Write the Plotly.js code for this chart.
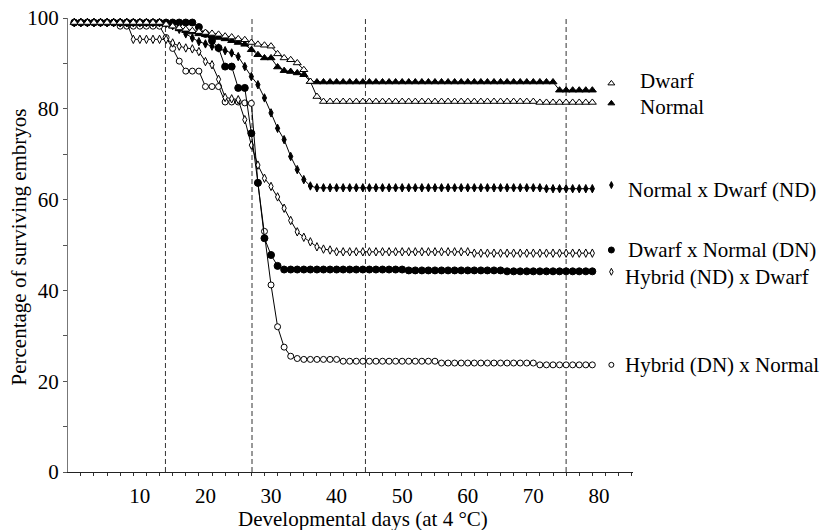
<!DOCTYPE html>
<html>
<head>
<meta charset="utf-8">
<script src="https://cdn.plot.ly/plotly-3.0.1.min.js"></script>
<style>html,body{margin:0;padding:0;background:#fff;}#chart{width:828px;height:530px;}</style>
</head>
<body>
<div id="chart"></div>
<script>
// ---- data ----
const days = [0,1,2,3,4,5,6,7,8,9,10,11,12,13,14,15,16,17,18,19,20,21,22,23,24,25,26,27,28,29,30,31,32,33,34,35,36,37,38,39,40,41,42,43,44,45,46,47,48,49,50,51,52,53,54,55,56,57,58,59,60,61,62,63,64,65,66,67,68,69,70,71,72,73,74,75,76,77,78,79];

const dwarf = [99,99,99,99,99,99,99,99,99,99,99,99,99,99,
  98.6,98.2,97.8,97.5,97.2,97.0,96.8,96.6,96.4,96.0,95.8,95.4,95.2,94.6,94.2,94.0,93.8,92.1,91.2,90.8,90.1,88.6,86.0,82.7,
  81.6,81.6,81.6,81.6,81.6,81.6,81.6,81.6,81.6,81.6,81.6,81.6,81.6,81.6,81.6,81.6,81.6,81.6,81.6,81.6,81.6,81.6,81.6,81.6,81.6,81.6,81.6,81.6,81.6,81.6,81.6,81.6,81.6,
  81.4,81.4,81.4,81.4,81.4,81.4,81.4,81.4,81.4];

const normal = [99,99,99,99,99,99,99,99,99,99,99,99,99,99,
  98.6,98.2,97.6,97.2,96.9,96.5,96.3,96.0,95.7,95.4,95.0,94.6,94.2,93.0,91.9,91.2,91.2,89.2,88.4,88.2,87.9,87.5,86.0,
  85.9,85.9,85.9,85.9,85.9,85.9,85.9,85.9,85.9,85.9,85.9,85.9,85.9,85.9,85.9,85.9,85.9,85.9,85.9,85.9,85.9,85.9,85.9,85.9,85.9,85.9,85.9,85.9,85.9,85.9,85.9,85.9,85.9,85.9,85.9,85.9,85.9,
  84.1,84.1,84.1,84.1,84.1,84.1];

const normalXDwarf = [99,99,99,99,99,99,99,99,99,99,99,99,99,99,
  98.8,98.3,97.5,96.5,95.6,94.8,94.3,93.8,93.4,92.8,92.3,91.5,89.3,87.1,85.3,82.4,79.1,75.7,73.2,69.5,66.6,64.4,63.0,
  62.6,62.6,62.6,62.6,62.6,62.6,62.6,62.6,62.6,62.6,62.6,62.6,62.6,62.6,62.6,62.6,62.6,62.6,62.6,62.6,62.6,62.6,62.6,62.6,62.6,62.6,62.6,62.6,62.6,62.6,62.6,62.6,62.6,62.6,62.6,
  62.4,62.4,62.4,62.4,62.4,62.4,62.4,62.4];

const dwarfXNormal = [99,99,99,99,99,99,99,99,99,99,99,99,99,99,99,99,99,99,99,
  98.0,96.5,95.0,93.4,89.3,89.3,84.6,84.6,74.6,63.7,51.5,47.8,45.4,
  44.6,44.6,44.6,44.6,44.6,44.6,44.6,44.6,44.6,44.6,44.6,44.6,44.6,44.6,44.6,44.6,44.6,44.6,44.6,
  44.4,44.4,44.4,44.4,44.4,44.4,44.4,44.4,44.4,44.4,44.4,44.4,44.4,44.4,44.4,
  44.2,44.2,44.2,44.2,44.2,44.2,44.2,44.2,44.2,44.2,44.2,44.2,44.2,44.2];

const hybridNDxDwarf = [99,99,99,99,99,99,99,99,99,
  95.3,95.3,95.3,95.3,95.3,95.3,
  94.5,93.8,93.4,93.2,92.6,90.4,89.7,86.5,82.5,82.2,82.0,77.6,72.0,67.6,64.7,62.9,60.6,58.1,55.4,52.9,51.7,50.7,49.6,49.1,48.9,
  48.5,48.5,48.5,48.5,48.5,48.5,48.5,48.5,48.5,48.5,48.5,48.5,48.5,48.5,48.5,48.5,48.5,48.5,48.5,48.5,48.5,
  48.2,48.2,48.2,48.2,48.2,48.2,48.2,48.2,48.2,48.2,48.2,48.2,48.2,48.2,48.2,48.2,48.2,48.2,48.2];

const hybridDNxNormal = [99,99,99,99,99,99,99,
  98.2,98.2,98.2,98.2,98.2,98.2,98.2,
  95.7,93.3,90.5,88.3,88.3,88.3,84.9,84.9,84.9,81.5,81.5,81.5,81.3,81.2,63.6,53.0,41.2,32.0,27.5,25.5,25.0,
  24.8,24.8,24.8,24.8,24.8,24.8,
  24.4,24.4,24.4,24.4,24.4,24.4,24.4,24.4,24.4,24.4,24.4,24.4,24.4,24.4,24.4,
  24.0,24.0,24.0,24.0,24.0,24.0,24.0,24.0,24.0,24.0,24.0,24.0,24.0,24.0,24.0,
  23.6,23.6,23.6,23.6,23.6,23.6,23.6,23.6,23.6];

// stage boundaries (dashed lines), days
const stageDays = [13.9, 27.1, 44.4, 75.0];

// tick values
const xTickVals = [10,20,30,40,50,60,70,80];
const yTickVals = [0,20,40,60,80,100];

// series labels
const seriesNames = ["Dwarf","Normal","Normal x Dwarf (ND)","Dwarf x Normal (DN)","Hybrid (ND) x Dwarf","Hybrid (DN) x Normal"];

// ---- styling / layout config ----
const FONT = "'Liberation Serif', 'Times New Roman', serif";
const FS = 21;
const styles = [
  {symbol:'triangle-up', fill:'#fff', size:7},
  {symbol:'triangle-up', fill:'#000', size:7},
  {symbol:'diamond-tall', fill:'#000', size:6},
  {symbol:'circle', fill:'#000', size:7},
  {symbol:'diamond-tall', fill:'#fff', size:6},
  {symbol:'circle', fill:'#fff', size:6}
];
const seriesData = [dwarf, normal, normalXDwarf, dwarfXNormal, hybridNDxDwarf, hybridDNxNormal];

// key markers (days / %) and label anchors (paper coords)
const keyMarkerX = 81.9;
const keyMarkerY = [85.6, 81.2, 63.2, 48.9, 44.1, 23.6];
const keyLabelX = [1.008, 1.008, 0.987, 0.987, 0.983, 0.983];
const keyLabelY = [0.862, 0.8046, 0.6211, 0.489, 0.4302, 0.2357];

const traces = [];
[5,4,3,2,1,0].forEach(i => {
  traces.push({
    x: days, y: seriesData[i], type:'scatter', mode:'lines+markers', name: seriesNames[i],
    line:{color:'#000', width:1},
    marker:{symbol:styles[i].symbol, size:styles[i].size, color:styles[i].fill, line:{color:'#000', width:1}},
    cliponaxis:false, showlegend:false
  });
});
seriesNames.forEach((n,i) => {
  traces.push({
    x:[keyMarkerX], y:[keyMarkerY[i]], type:'scatter', mode:'markers', name:n+' key',
    marker:{symbol:styles[i].symbol, size:styles[i].size-1, color:styles[i].fill, line:{color:'#000', width:1}},
    cliponaxis:false, showlegend:false, hoverinfo:'skip'
  });
});

const annotations = seriesNames.map((n,i) => ({
  text:n, xref:'paper', yref:'paper', x:keyLabelX[i], y:keyLabelY[i],
  xanchor:'left', yanchor:'middle', showarrow:false,
  font:{family:FONT, size:FS, color:'#000'}
}));
annotations.push({
  text:'Developmental days (at 4 °C)', xref:'paper', yref:'paper', x:0.523, y:-0.103,
  xanchor:'center', yanchor:'middle', showarrow:false, font:{family:FONT, size:FS, color:'#000'}
});
annotations.push({
  text:'Percentage of surviving embryos', xref:'paper', yref:'paper', x:-0.085, y:0.4967,
  xanchor:'center', yanchor:'middle', textangle:-90, showarrow:false, font:{family:FONT, size:FS, color:'#000'}
});

const shapes = stageDays.map(d => ({
  type:'line', xref:'x', yref:'paper', x0:d, x1:d, y0:0, y1:1,
  line:{color:'#333', width:1, dash:'5px,3px'}, layer:'below'
}));

const layout = {
  width:828, height:530,
  margin:{l:68, r:195, t:18, b:58},
  paper_bgcolor:'#fff', plot_bgcolor:'#fff',
  font:{family:FONT, size:FS, color:'#000'},
  showlegend:false,
  xaxis:{
    range:[-0.96, 85.2], showgrid:false, zeroline:false,
    showline:true, linecolor:'#222', linewidth:1,
    tickmode:'array', tickvals:xTickVals, ticks:'outside', ticklen:5, tickcolor:'rgba(0,0,0,0)',
    tickfont:{family:FONT, size:FS, color:'#000'},
    minor:{tickmode:'linear', tick0:1, dtick:2, ticks:'outside', ticklen:3, tickcolor:'#333', showgrid:false}
  },
  yaxis:{
    range:[0,100], showgrid:false, zeroline:false,
    showline:true, linecolor:'#777', linewidth:1,
    tickmode:'array', tickvals:yTickVals, ticks:'outside', ticklen:4, tickcolor:'#555',
    tickfont:{family:FONT, size:FS, color:'#000'},
    minor:{tickmode:'linear', tick0:10, dtick:20, ticks:'outside', ticklen:4, tickcolor:'#555', showgrid:false}
  },
  annotations: annotations,
  shapes: shapes
};

Plotly.newPlot('chart', traces, layout, {displayModeBar:false, staticPlot:true});
</script>
</body>
</html>
